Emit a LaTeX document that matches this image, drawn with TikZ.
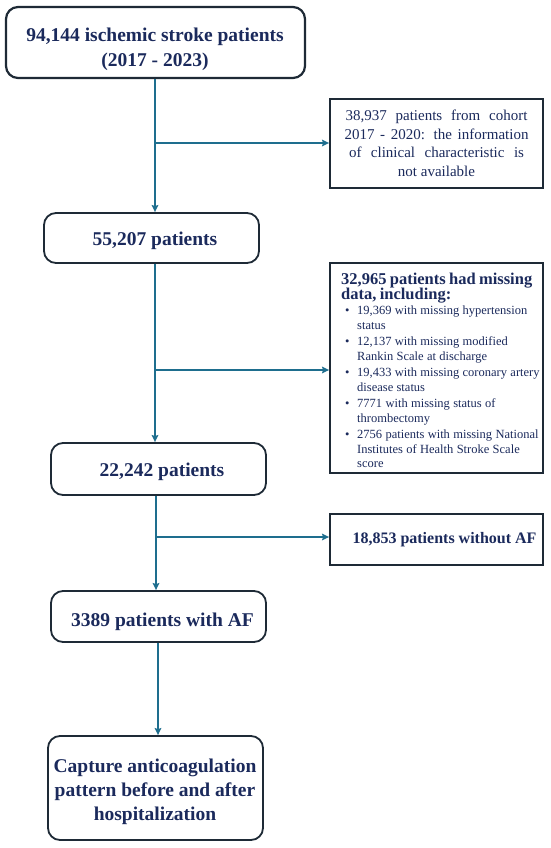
\documentclass[tikz,border=0pt]{standalone}
\usepackage{fontspec}
\setmainfont{Liberation Serif}
\usetikzlibrary{arrows.meta}
\definecolor{txt}{HTML}{1B2A5C}
\definecolor{arrc}{HTML}{1E6E8E}
\definecolor{bord}{HTML}{1E2A36}
\begin{document}
\begin{tikzpicture}[x=1pt,y=-1pt,
  mainbox/.style={draw=bord, line width=1.8pt, rounded corners=12pt, fill=white, inner sep=0pt},
  maintext/.style={text=txt, font=\fontsize{19.5}{24.5}\selectfont\bfseries, align=center, inner sep=0pt},
  sidebox/.style={draw=bord, line width=1.8pt, fill=white, text=txt, inner sep=0pt},
  arr/.style={draw=arrc, line width=1.9pt, -{Stealth[length=7pt,width=6.5pt,inset=1pt]}}
]
\useasboundingbox (0,0) rectangle (550,848);
\fill[white] (0,0) rectangle (550,848);

% main column boxes
\node[mainbox, minimum width=299pt, minimum height=71pt, line width=2.2pt] (b1) at (155.5,42.5) {};
\node[mainbox, minimum width=215pt, minimum height=50pt] (b2) at (151.5,238) {};
\node[mainbox, minimum width=215pt, minimum height=52pt] (b3) at (158.5,469) {};
\node[mainbox, minimum width=215pt, minimum height=51pt] (b4) at (158.5,616.5) {};
\node[mainbox, minimum width=215pt, minimum height=104pt] (b5) at (155.5,788) {};

% main column texts
\node[maintext, anchor=north] (b1t) at (155,28.2) {94,144 ischemic stroke patients\\(2017 - 2023)};
\node[maintext, anchor=base] (b2t) at (155,245.7) {55,207 patients};
\node[maintext, anchor=base] (b3t) at (162,476.7) {22,242 patients};
\node[maintext, anchor=base] (b4t) at (162.5,626.7) {3389 patients with AF};
\node[maintext, anchor=north, font=\fontsize{19.5}{24}\selectfont\bfseries] (b5t) at (155,758.3)
  {Capture anticoagulation\\pattern before and after\\hospitalization};

% side boxes
\node[sidebox, minimum width=213pt, minimum height=89pt, align=center,
  font=\fontsize{15}{18.5}\selectfont] (r1) at (436.5,143.5)
  {\makebox[182pt][s]{38,937 patients from cohort}\\
   \makebox[184pt][s]{2017 - 2020: the information}\\
   \makebox[175pt][s]{of clinical characteristic is}\\
   not available};

\node[sidebox, minimum width=213pt, minimum height=210pt] (r2) at (436.5,368) {};
\node[text=txt, anchor=north west, inner sep=0pt, text width=212pt, align=left] (r2t) at (341,272.8)
  {{\fontsize{16.5}{15.5}\selectfont\bfseries 32,965 patients had missing\\ data, including:\par}%
   \vspace{-1.4pt}%
   {\fontsize{12.5}{14.5}\selectfont\parskip=1.9pt
    \newcommand{\bitem}[1]{\par\noindent\hangindent=16pt\hangafter=1\hspace*{4pt}\makebox[12pt][l]{\textbullet}#1}%
    \bitem{19,369 with missing hypertension\newline status}
    \bitem{12,137 with missing modified\newline Rankin Scale at discharge}
    \bitem{19,433 with missing coronary artery\newline disease status}
    \bitem{7771 with missing status of\newline thrombectomy}
    \bitem{2756 patients with missing National\newline Institutes of Health Stroke Scale\newline score}\par}};

\node[sidebox, minimum width=213pt, minimum height=51pt] (r3) at (436.5,539.5) {};
\node[text=txt, anchor=base, inner sep=0pt, font=\fontsize{16}{19}\selectfont\bfseries] (r3t) at (444.5,543.5)
  {18,853 patients without AF};

% connectors
\coordinate (c1) at (155,0);
\coordinate (c2) at (155,0);
\coordinate (c3) at (156,0);
\coordinate (c4) at (158,0);
\coordinate (j1) at (155,143);
\coordinate (j2) at (155,370);
\coordinate (j3) at (156,537);

\draw[arr] (b1.south -| c1) -- (b2.north -| c1);
\draw[arr] (j1) -- (j1 -| r1.west);
\draw[arr] (b2.south -| c2) -- (b3.north -| c2);
\draw[arr] (j2) -- (j2 -| r2.west);
\draw[arr] (b3.south -| c3) -- (b4.north -| c3);
\draw[arr] (j3) -- (j3 -| r3.west);
\draw[arr] (b4.south -| c4) -- (b5.north -| c4);
\end{tikzpicture}
\end{document}
